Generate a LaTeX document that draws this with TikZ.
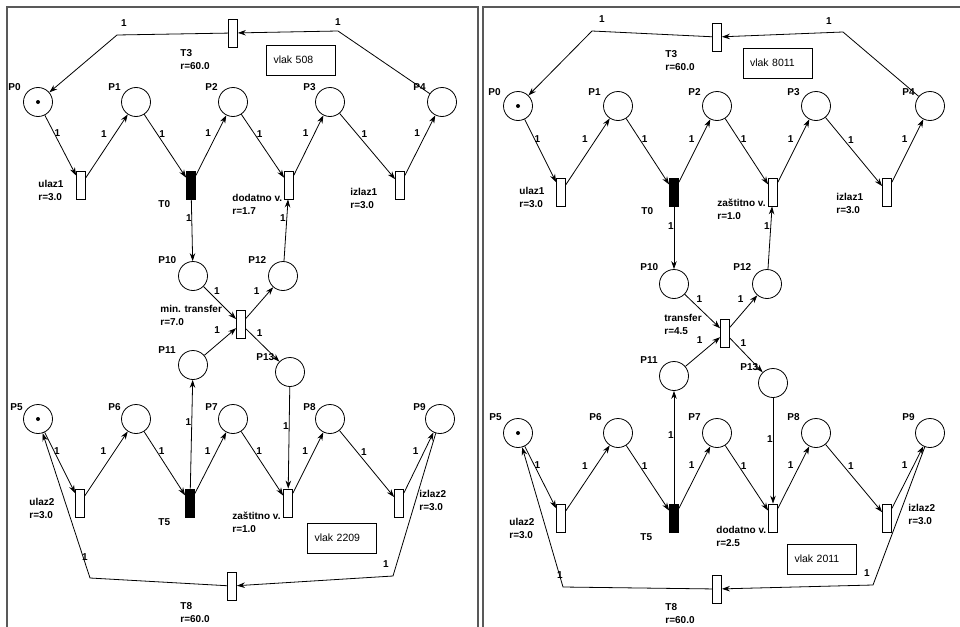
\documentclass[tikz,border=0pt]{standalone}
\usepackage{fontspec}
\setmainfont{Liberation Sans}
\usetikzlibrary{arrows.meta}

\begin{document}
\begin{tikzpicture}[x=1pt, y=-1pt, line width=0.8pt, >={Stealth[length=8pt, width=5.5pt]},
    place/.style={circle, draw, minimum size=29pt, inner sep=0pt},
    trans/.style={rectangle, draw, fill=white, minimum width=9pt, minimum height=28pt, inner sep=0pt},
    busy/.style={trans, fill=black},
    lbl/.style={anchor=north west, inner sep=0pt, align=left, font=\fontsize{10}{13}\selectfont\bfseries},
    wt/.style={midway, inner sep=0pt, xshift=-3pt, yshift=12pt, font=\fontsize{10}{12}\selectfont\bfseries},
    wc/.style={inner sep=0pt, font=\fontsize{10}{12}\selectfont\bfseries},
    train/.style={draw, minimum width=69pt, minimum height=30pt, text width=55pt, inner xsep=7pt, align=left, font=\fontsize{10.5}{12}\selectfont},
    panel/.style={draw=black!65, line width=1.8pt}]
    \useasboundingbox (0,0) rectangle (960,626);
    \clip (0,0) rectangle (960,626);
    \draw[panel] (7,640) |- (478,7) -- (478,640);
    \draw[panel] (483,640) |- (975,7);

    % vlak 508 / vlak 2209
    \node[place] (lp0) at (38,102) {};
    \node[place] (lp1) at (136,102) {};
    \node[place] (lp2) at (233,102) {};
    \node[place] (lp3) at (330,102) {};
    \node[place] (lp4) at (442,102) {};
    \node[trans] (lt3) at (233,33) {};
    \node[trans] (lulaz1) at (81,185) {};
    \node[busy] (lt0) at (191,185) {};
    \node[trans] (ldod) at (289,185) {};
    \node[trans] (lizlaz1) at (400,185) {};
    \node[place] (lp10) at (193,276) {};
    \node[place] (lp12) at (283,276) {};
    \node[trans] (ltr) at (241,324) {};
    \node[place] (lp11) at (193,365) {};
    \node[place] (lp13) at (290,372) {};
    \node[place] (lp5) at (38,419) {};
    \node[place] (lp6) at (136,419) {};
    \node[place] (lp7) at (233,419) {};
    \node[place] (lp8) at (330,419) {};
    \node[place] (lp9) at (440,419) {};
    \node[trans] (lulaz2) at (80,503) {};
    \node[busy] (lt5) at (190,503) {};
    \node[trans] (lzas) at (288,503) {};
    \node[trans] (lizlaz2) at (399,503) {};
    \node[trans] (lt8) at (232,586) {};
    \coordinate (lc1) at (338,31);
    \coordinate (lc2) at (117,35);
    \coordinate (lc3) at (393,576);
    \coordinate (lc4) at (90,578);
    \fill (lp0) circle[radius=2];
    \fill (lp5) circle[radius=2];

    \node[lbl] (lp0t) at (8,83) {P0};
    \node[lbl] (lp1t) at (108,83) {P1};
    \node[lbl] (lp2t) at (205,83) {P2};
    \node[lbl] (lp3t) at (303,83) {P3};
    \node[lbl] (lp4t) at (413,83) {P4};
    \node[lbl] (lt3t) at (180,49) {T3\\r=60.0};
    \node[lbl] (lulaz1t) at (38,180) {ulaz1\\r=3.0};
    \node[lbl] (lt0t) at (158,200) {T0};
    \node[lbl] (ldodt) at (232,194) {dodatno v.\\r=1.7};
    \node[lbl] (lizlaz1t) at (350,188) {izlaz1\\r=3.0};
    \node[lbl] (lp10t) at (158,256) {P10};
    \node[lbl] (lp12t) at (248,256) {P12};
    \node[lbl] (ltrt) at (160,305) {min. transfer\\r=7.0};
    \node[lbl] (lp11t) at (158,346) {P11};
    \node[lbl] (lp13t) at (256,353) {P13};
    \node[lbl] (lp5t) at (10,403) {P5};
    \node[lbl] (lp6t) at (108,403) {P6};
    \node[lbl] (lp7t) at (205,403) {P7};
    \node[lbl] (lp8t) at (303,403) {P8};
    \node[lbl] (lp9t) at (413,403) {P9};
    \node[lbl] (lulaz2t) at (29,498) {ulaz2\\r=3.0};
    \node[lbl] (lt5t) at (158,518) {T5};
    \node[lbl] (lzast) at (232,512) {zaštitno v.\\r=1.0};
    \node[lbl] (lizlaz2t) at (419,490) {izlaz2\\r=3.0};
    \node[lbl] (lt8t) at (180,602) {T8\\r=60.0};
    \node[train] (lvlak1) at (301,60) {vlak 508};
    \node[train] (lvlak2) at (342,538) {vlak 2209};

    \draw[->] (lp4) -- (lc1) node[wc, yshift=9pt] {1} -- (lt3);
    \draw[->] (lt3) -- (lc2) node[wc, xshift=7pt, yshift=12pt] {1} -- (lp0);
    \draw[->] (lp9) -- (lc3) node[wc, xshift=-7pt, yshift=12pt] {1} -- (lt8);
    \draw[->] (lt8) -- (lc4) node[wc, xshift=-5pt, yshift=21pt] {1} -- (lp5);
    \path[->]
    (lp0) edge node[wt] {1} (lulaz1)
    (lulaz1) edge node[wt] {1} (lp1)
    (lp1) edge node[wt] {1} (lt0)
    (lt0) edge node[wt] {1} (lp2)
    (lp2) edge node[wt] {1} (ldod)
    (ldod) edge node[wt] {1} (lp3)
    (lp3) edge node[wt] {1} (lizlaz1)
    (lizlaz1) edge node[wt] {1} (lp4)
    (lt0) edge node[wt] {1} (lp10)
    (lp12) edge node[wt] {1} (ldod)
    (lp10) edge node[wt] {1} (ltr)
    (ltr) edge node[wt] {1} (lp12)
    (lp11) edge node[wt] {1} (ltr)
    (ltr) edge node[wt] {1} (lp13)
    (lt5) edge node[wt] {1} (lp11)
    (lp13) edge node[wt] {1} (lzas)
    (lp5) edge node[wt] {1} (lulaz2)
    (lulaz2) edge node[wt] {1} (lp6)
    (lp6) edge node[wt] {1} (lt5)
    (lt5) edge node[wt] {1} (lp7)
    (lp7) edge node[wt] {1} (lzas)
    (lzas) edge node[wt] {1} (lp8)
    (lp8) edge node[wt] {1} (lizlaz2)
    (lizlaz2) edge node[wt] {1} (lp9);

    % vlak 8011 / vlak 2011
    \node[place] (rp0) at (518,106) {};
    \node[place] (rp1) at (618,106) {};
    \node[place] (rp2) at (717,106) {};
    \node[place] (rp3) at (816,106) {};
    \node[place] (rp4) at (930,106) {};
    \node[trans] (rt3) at (717,37) {};
    \node[trans] (rulaz1) at (561,192) {};
    \node[busy] (rt0) at (674,192) {};
    \node[trans] (rzas) at (773,192) {};
    \node[trans] (rizlaz1) at (887,192) {};
    \node[place] (rp10) at (674,284) {};
    \node[place] (rp12) at (767,284) {};
    \node[trans] (rtr) at (725,333) {};
    \node[place] (rp11) at (674,376) {};
    \node[place] (rp13) at (773,383) {};
    \node[place] (rp5) at (518,433) {};
    \node[place] (rp6) at (618,433) {};
    \node[place] (rp7) at (717,433) {};
    \node[place] (rp8) at (816,433) {};
    \node[place] (rp9) at (930,433) {};
    \node[trans] (rulaz2) at (561,518) {};
    \node[busy] (rt5) at (674,518) {};
    \node[trans] (rdod) at (773,518) {};
    \node[trans] (rizlaz2) at (887,518) {};
    \node[trans] (rt8) at (717,589) {};
    \coordinate (rc1) at (843,32);
    \coordinate (rc2) at (592,31);
    \coordinate (rc3) at (873,585);
    \coordinate (rc4) at (563,587);
    \fill (rp0) circle[radius=2];
    \fill (rp5) circle[radius=2];

    \node[lbl] (rp0t) at (488,88) {P0};
    \node[lbl] (rp1t) at (588,88) {P1};
    \node[lbl] (rp2t) at (688,88) {P2};
    \node[lbl] (rp3t) at (787,88) {P3};
    \node[lbl] (rp4t) at (902,88) {P4};
    \node[lbl] (rt3t) at (665,50) {T3\\r=60.0};
    \node[lbl] (rulaz1t) at (519,187) {ulaz1\\r=3.0};
    \node[lbl] (rt0t) at (641,207) {T0};
    \node[lbl] (rzast) at (717,199) {zaštitno v.\\r=1.0};
    \node[lbl] (rizlaz1t) at (836,193) {izlaz1\\r=3.0};
    \node[lbl] (rp10t) at (640,263) {P10};
    \node[lbl] (rp12t) at (733,263) {P12};
    \node[lbl] (rtrt) at (664,314) {transfer\\r=4.5};
    \node[lbl] (rp11t) at (640,356) {P11};
    \node[lbl] (rp13t) at (740,363) {P13};
    \node[lbl] (rp5t) at (489,413) {P5};
    \node[lbl] (rp6t) at (589,413) {P6};
    \node[lbl] (rp7t) at (688,413) {P7};
    \node[lbl] (rp8t) at (787,413) {P8};
    \node[lbl] (rp9t) at (902,413) {P9};
    \node[lbl] (rulaz2t) at (509,518) {ulaz2\\r=3.0};
    \node[lbl] (rt5t) at (640,533) {T5};
    \node[lbl] (rdodt) at (716,526) {dodatno v.\\r=2.5};
    \node[lbl] (rizlaz2t) at (908,504) {izlaz2\\r=3.0};
    \node[lbl] (rt8t) at (665,603) {T8\\r=60.0};
    \node[train] (rvlak1) at (777.5,63) {vlak 8011};
    \node[train] (rvlak2) at (822,559) {vlak 2011};

    \draw[->] (rp4) -- (rc1) node[wc, xshift=-14pt, yshift=11pt] {1} -- (rt3);
    \draw[->] (rt3) -- (rc2) node[wc, xshift=10pt, yshift=12pt] {1} -- (rp0);
    \draw[->] (rp9) -- (rc3) node[wc, xshift=-6pt, yshift=12pt] {1} -- (rt8);
    \draw[->] (rt8) -- (rc4) node[wc, xshift=-3pt, yshift=12pt] {1} -- (rp5);
    \path[->]
    (rp0) edge node[wt] {1} (rulaz1)
    (rulaz1) edge node[wt] {1} (rp1)
    (rp1) edge node[wt] {1} (rt0)
    (rt0) edge node[wt] {1} (rp2)
    (rp2) edge node[wt] {1} (rzas)
    (rzas) edge node[wt] {1} (rp3)
    (rp3) edge node[wt] {1} (rizlaz1)
    (rizlaz1) edge node[wt] {1} (rp4)
    (rt0) edge node[wt] {1} (rp10)
    (rp12) edge node[wt] {1} (rzas)
    (rp10) edge node[wt] {1} (rtr)
    (rtr) edge node[wt] {1} (rp12)
    (rp11) edge node[wt] {1} (rtr)
    (rtr) edge node[wt] {1} (rp13)
    (rt5) edge node[wt] {1} (rp11)
    (rp13) edge node[wt] {1} (rdod)
    (rp5) edge node[wt] {1} (rulaz2)
    (rulaz2) edge node[wt] {1} (rp6)
    (rp6) edge node[wt] {1} (rt5)
    (rt5) edge node[wt] {1} (rp7)
    (rp7) edge node[wt] {1} (rdod)
    (rdod) edge node[wt] {1} (rp8)
    (rp8) edge node[wt] {1} (rizlaz2)
    (rizlaz2) edge node[wt] {1} (rp9);
\end{tikzpicture}
\end{document}
